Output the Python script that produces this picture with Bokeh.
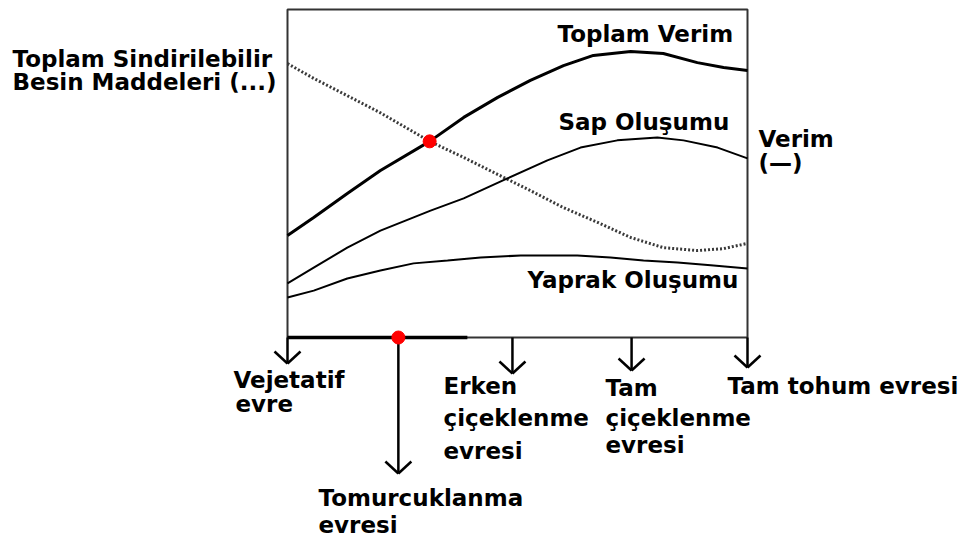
from bokeh.plotting import figure
from bokeh.models import Range1d, ColumnDataSource
from bokeh.core.properties import value
from bokeh.embed import file_html
from bokeh.resources import INLINE

# ---------------- data (x: growth progress 0-100, y: relative amount 0-100) -------------
stage_names = ["Vejetatif evre", "Tomurcuklanma evresi", "Erken çiçeklenme evresi",
               "Tam çiçeklenme evresi", "Tam tohum evresi"]
stage_x = [0, 24.1, 48.9, 74.8, 100]

toplam_verim_x = [0, 5.7, 13.0, 20.2, 30.9, 38.3, 45.7, 52.8, 60.0, 66.5, 74.6, 81.7, 89.1, 94.8, 100]
toplam_verim_y = [31.1, 36.6, 43.9, 50.9, 59.8, 67.1, 73.2, 78.4, 82.9, 86.0, 87.2, 86.6, 83.8, 82.3, 81.4]

sap_x = [0, 5.7, 13.0, 20.2, 31.1, 38.3, 47.8, 56.5, 63.7, 71.7, 80.4, 86.1, 93.5, 100]
sap_y = [16.5, 21.3, 27.4, 32.6, 38.7, 42.4, 48.5, 54.0, 57.9, 60.1, 61.0, 60.1, 57.9, 54.6]

yaprak_x = [0, 5.7, 13.0, 20.2, 27.4, 34.8, 42.0, 50.7, 63.0, 70.2, 77.4, 84.8, 92.0, 100]
yaprak_y = [12.2, 14.3, 18.0, 20.4, 22.6, 23.5, 24.4, 25.0, 25.0, 24.4, 23.5, 22.9, 22.0, 21.0]

tsbm_x = [0, 5.7, 20.2, 30.9, 38.3, 47.0, 52.8, 60.0, 67.4, 74.6, 81.7, 89.1, 94.8, 100]
tsbm_y = [83.5, 79.0, 68.5, 59.8, 54.9, 48.8, 44.8, 39.6, 35.1, 30.5, 27.4, 26.5, 27.1, 28.7]

cross_x = [30.9]   # Toplam verim x TSBM
cross_y = [59.8]
bud_stage_index = 1
vegetative_span = [0, 39.1]

series_labels = ["Toplam Verim", "Sap Oluşumu", "Yaprak Oluşumu", "Verim", "(—)",
                 "Toplam Sindirilebilir", "Besin Maddeleri (...)"]
stage_label_lines = [["Vejetatif", "evre"], ["Tomurcuklanma", "evresi"],
                     ["Erken", "çiçeklenme", "evresi"], ["Tam", "çiçeklenme", "evresi"],
                     ["Tam tohum evresi"]]

# ---------------- layout (window pixels) ----------------
W, H, M = 967, 542, 0
BOX_L, BOX_B = 287, 337
XS, YS = 4.6, 3.28
TXT_DY = -9  # renderer baseline correction


def X(px):
    return (px - BOX_L) / XS


def Y(py):
    return (BOX_B - py) / YS


arrow_end_py = [363, 473, 373, 370, 367]
HEAD_W, HEAD_H = 13, 12

series_label_pos = [(557, 42), (558, 130), (527, 288), (758, 147), (758, 171), (12, 67), (12, 90)]
stage_label_pos = [[(233, 388), (235, 412)], [(318, 506), (318, 533)],
                   [(443, 394), (443, 426), (443, 459)], [(605, 396), (605, 426), (605, 453)],
                   [(727, 394)]]

p = figure(width=W, height=H,
           x_range=Range1d(X(M), X(M + W)), y_range=Range1d(Y(M + H), Y(M)),
           x_axis_type=None, y_axis_type=None, toolbar_location=None,
           output_backend="svg", min_border=0, outline_line_color=None)
p.min_border_left = p.min_border_right = p.min_border_top = p.min_border_bottom = 0
p.background_fill_color = "white"
p.border_fill_color = "white"

# frame box
p.quad(left=[0], right=[100], bottom=[0], top=[100], fill_color=None,
       line_color="#333333", line_width=2)
# vegetative thick span on axis
p.line(vegetative_span, [0, 0], line_color="black", line_width=3.5)

# curves
p.line(tsbm_x, tsbm_y, line_color="#3a3a3a", line_width=3, line_dash="2 2")
p.line(toplam_verim_x, toplam_verim_y, line_color="black", line_width=3)
p.line(sap_x, sap_y, line_color="black", line_width=2)
p.line(yaprak_x, yaprak_y, line_color="black", line_width=2)

# stage arrows
for sx, ey_px in zip(stage_x, arrow_end_py):
    ey = Y(ey_px)
    p.segment(x0=[sx], y0=[0], x1=[sx], y1=[ey], line_color="black", line_width=2.5)
    p.segment(x0=[sx - HEAD_W / XS, sx + HEAD_W / XS], y0=[ey + HEAD_H / YS] * 2,
              x1=[sx, sx], y1=[ey, ey], line_color="black", line_width=2.5)

# red points
p.scatter(cross_x + [stage_x[bud_stage_index]], cross_y + [0], size=13,
          fill_color="red", line_color="red")

# labels
lx, ly, lt = [], [], []
for t, (px, py) in zip(series_labels, series_label_pos):
    lx.append(X(px)); ly.append(Y(py + TXT_DY)); lt.append(t)
for lines, poss in zip(stage_label_lines, stage_label_pos):
    for t, (px, py) in zip(lines, poss):
        lx.append(X(px)); ly.append(Y(py + TXT_DY)); lt.append(t)

src = ColumnDataSource(dict(x=lx, y=ly, text=lt))
p.text(x="x", y="y", text="text", source=src, text_font=value("DejaVu Sans"),
       text_font_style="bold", text_font_size="23px", text_color="black",
       text_align="left", text_baseline="alphabetic")

open("out.html", "w").write(file_html(p, INLINE))
